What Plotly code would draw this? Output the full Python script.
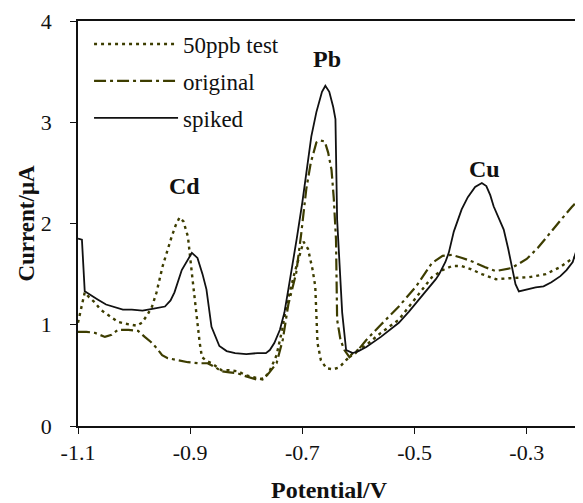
import plotly.graph_objects as go

# ---- data ----
spiked_x = [-1.100, -1.093, -1.088, -1.075, -1.065, -1.050, -1.034, -1.020, -1.004, -0.985,
            -0.965, -0.945, -0.935, -0.928, -0.915, -0.905, -0.897, -0.887, -0.878, -0.871,
            -0.862, -0.848, -0.835, -0.820, -0.800, -0.780, -0.765, -0.758, -0.750, -0.740,
            -0.732, -0.725, -0.718, -0.710, -0.700, -0.692, -0.684, -0.675, -0.665, -0.659,
            -0.652, -0.645, -0.641, -0.638, -0.633, -0.629, -0.622, -0.610, -0.600, -0.586,
            -0.560, -0.528, -0.510, -0.492, -0.475, -0.462, -0.456, -0.445, -0.439, -0.430,
            -0.416, -0.405, -0.392, -0.380, -0.372, -0.365, -0.359, -0.350, -0.341, -0.333,
            -0.327, -0.320, -0.314, -0.300, -0.284, -0.270, -0.256, -0.240, -0.229, -0.218,
            -0.211]
spiked_y = [1.85, 1.84, 1.33, 1.28, 1.25, 1.20, 1.17, 1.15, 1.15, 1.14,
            1.16, 1.18, 1.24, 1.32, 1.54, 1.63, 1.71, 1.66, 1.50, 1.35,
            0.98, 0.79, 0.74, 0.72, 0.71, 0.72, 0.72, 0.75, 0.82, 0.95,
            1.12, 1.35, 1.57, 1.85, 2.21, 2.55, 2.86, 3.10, 3.30, 3.36,
            3.30, 3.15, 3.03, 2.04, 1.55, 1.12, 0.75, 0.72, 0.74, 0.78,
            0.88, 1.02, 1.13, 1.25, 1.36, 1.45, 1.50, 1.62, 1.71, 1.92,
            2.14, 2.26, 2.36, 2.40, 2.37, 2.28, 2.17, 2.06, 1.94, 1.75,
            1.57, 1.40, 1.33, 1.35, 1.37, 1.38, 1.42, 1.48, 1.54, 1.62,
            1.74]

test_x = [-1.100, -1.095, -1.088, -1.080, -1.070, -1.060, -1.052, -1.040, -1.029, -1.015,
          -1.004, -0.995, -0.986, -0.976, -0.968, -0.960, -0.949, -0.940, -0.933, -0.926,
          -0.919, -0.912, -0.904, -0.897, -0.890, -0.883, -0.879, -0.870, -0.862, -0.844,
          -0.830, -0.815, -0.800, -0.785, -0.771, -0.760, -0.746, -0.736, -0.728, -0.714,
          -0.705, -0.698, -0.690, -0.682, -0.677, -0.675, -0.673, -0.667, -0.657, -0.645,
          -0.634, -0.622, -0.610, -0.586, -0.560, -0.528, -0.500, -0.469, -0.450, -0.433,
          -0.416, -0.400, -0.380, -0.355, -0.330, -0.296, -0.266, -0.240, -0.225, -0.213]
test_y = [1.02, 1.15, 1.32, 1.27, 1.22, 1.15, 1.12, 1.08, 1.03, 1.01,
          1.00, 0.99, 1.02, 1.10, 1.18, 1.32, 1.58, 1.75, 1.87, 1.98,
          2.06, 2.02, 1.87, 1.51, 1.15, 0.82, 0.68, 0.64, 0.62, 0.55,
          0.55, 0.54, 0.50, 0.48, 0.46, 0.52, 0.70, 0.95, 1.20, 1.51,
          1.70, 1.82, 1.75, 1.55, 1.38, 1.15, 0.82, 0.65, 0.57, 0.56,
          0.58, 0.65, 0.72, 0.80, 0.92, 1.05, 1.25, 1.47, 1.54, 1.58,
          1.58, 1.55, 1.50, 1.45, 1.46, 1.47, 1.50, 1.57, 1.63, 1.67]

orig_x = [-1.100, -1.085, -1.070, -1.052, -1.040, -1.029, -1.010, -0.993, -0.981, -0.970,
          -0.960, -0.950, -0.940, -0.920, -0.904, -0.885, -0.869, -0.855, -0.844, -0.830,
          -0.815, -0.800, -0.782, -0.770, -0.760, -0.746, -0.735, -0.725, -0.711, -0.702,
          -0.693, -0.685, -0.675, -0.668, -0.660, -0.654, -0.648, -0.644, -0.640, -0.638,
          -0.632, -0.625, -0.616, -0.605, -0.586, -0.560, -0.528, -0.497, -0.469, -0.450,
          -0.433, -0.415, -0.395, -0.375, -0.355, -0.327, -0.300, -0.280, -0.260, -0.240,
          -0.220, -0.210]
orig_y = [0.93, 0.93, 0.92, 0.88, 0.90, 0.95, 0.95, 0.94, 0.88, 0.83,
          0.77, 0.70, 0.67, 0.65, 0.63, 0.62, 0.62, 0.58, 0.54, 0.53,
          0.52, 0.49, 0.46, 0.47, 0.52, 0.62, 0.85, 1.20, 1.51, 1.90,
          2.34, 2.60, 2.80, 2.82, 2.81, 2.70, 2.53, 2.25, 1.84, 1.05,
          0.85, 0.75, 0.68, 0.72, 0.85, 1.00, 1.18, 1.38, 1.61, 1.68,
          1.69, 1.66, 1.62, 1.57, 1.53, 1.56, 1.65, 1.76, 1.90, 2.03,
          2.16, 2.22]

peak_labels = ["Cd", "Pb", "Cu"]
peak_x = [-0.910, -0.656, -0.376]
peak_y = [2.37, 3.62, 2.54]

x_ticks = [-1.1, -0.9, -0.7, -0.5, -0.3]
y_ticks = [0, 1, 2, 3, 4]

OLIVE = "#3d3d00"
FONT = "Liberation Serif"

fig = go.Figure()
fig.add_trace(go.Scatter(x=test_x, y=test_y, mode="lines", name="50ppb test",
                         legendgroup="a",
                         line=dict(color=OLIVE, width=2.4, dash="3px,4px")))
fig.add_trace(go.Scatter(x=orig_x, y=orig_y, mode="lines", name="original",
                         legendgroup="b",
                         line=dict(color=OLIVE, width=2.2, dash="12px,4px,3px,4px")))
fig.add_trace(go.Scatter(x=spiked_x, y=spiked_y, mode="lines", name="spiked",
                         legendgroup="c",
                         line=dict(color="#111111", width=1.8)))

for t, xx, yy in zip(peak_labels, peak_x, peak_y):
    fig.add_annotation(x=xx, y=yy, text="<b>%s</b>" % t, showarrow=False,
                       font=dict(family=FONT, size=24, color="#111111"))

# the page body adds an 8px margin, so the figure is sized to fit the window
fig.update_layout(
    width=575, height=495,
    margin=dict(l=70, r=3, t=13, b=77, autoexpand=False),
    paper_bgcolor="white", plot_bgcolor="white",
    font=dict(family=FONT, size=22, color="#111111"),
    showlegend=True,
    legend=dict(x=0.022, y=0.996, xanchor="left", yanchor="top",
                bgcolor="rgba(0,0,0,0)", borderwidth=0,
                font=dict(family=FONT, size=23, color="#111111"),
                itemwidth=84, tracegroupgap=4),
)
fig.update_xaxes(range=[-1.1, -0.205], tickvals=x_ticks,
                 ticktext=["-1.1", "-0.9", "-0.7", "-0.5", "-0.3"],
                 automargin=False,
                 showgrid=False, zeroline=False, showline=True, linecolor="#111111",
                 linewidth=1.5, mirror=True, ticks="outside", ticklen=6,
                 tickcolor="#111111", ticklabelstandoff=0,
                 title=dict(text="<b>Potential/V</b>", standoff=22,
                            font=dict(family=FONT, size=24)))
fig.update_yaxes(range=[0, 4], tickvals=y_ticks,
                 automargin=False,
                 showgrid=False, zeroline=False, showline=True, linecolor="#111111",
                 linewidth=1.5, mirror=True, ticks="outside", ticklen=6,
                 tickcolor="#111111", ticklabelstandoff=14,
                 title=dict(text="<b>Current/μA</b>", standoff=0,
                            font=dict(family=FONT, size=23)))

fig.write_html("out.html",
               post_script="document.documentElement.style.overflow='hidden';"
                           "document.body.style.overflow='hidden';")
